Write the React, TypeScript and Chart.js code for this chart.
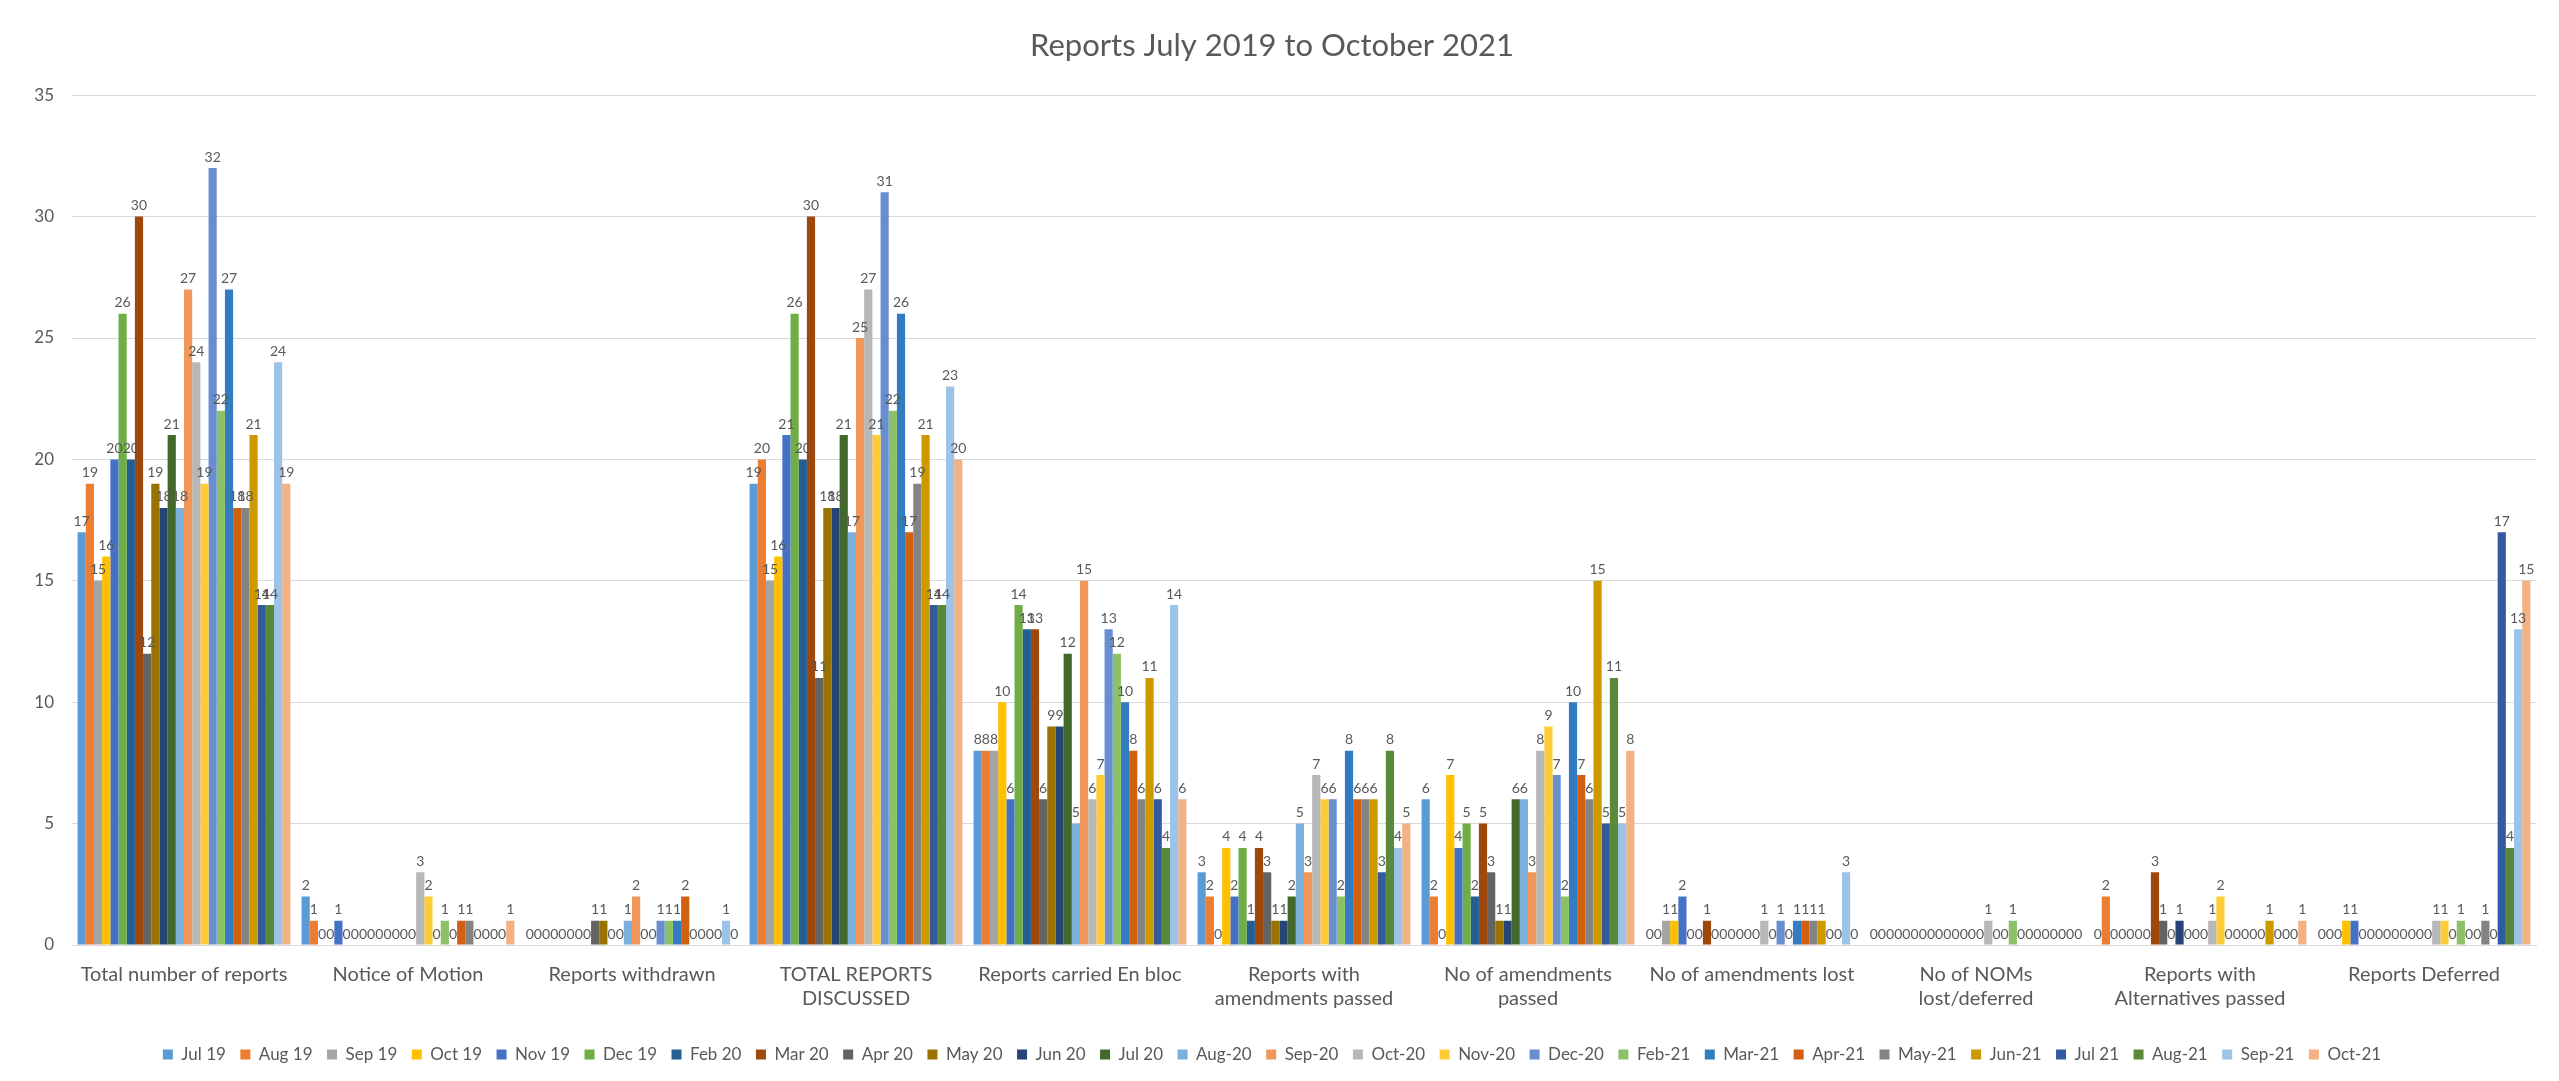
import React, { useEffect, useRef } from "react";
import { Chart, registerables } from "chart.js";

Chart.register(...registerables);

const categories: (string | string[])[] = [
  "Total number of reports",
  "Notice of Motion",
  "Reports withdrawn",
  ["TOTAL REPORTS", "DISCUSSED"],
  "Reports carried En bloc",
  ["Reports with", "amendments passed"],
  ["No of amendments", "passed"],
  "No of amendments lost",
  ["No of NOMs", "lost/deferred"],
  ["Reports with", "Alternatives passed"],
  "Reports Deferred",
];

const seriesNames = [
  "Jul 19", "Aug 19", "Sep 19", "Oct 19", "Nov 19", "Dec 19", "Feb 20", "Mar 20", "Apr 20",
  "May 20", "Jun 20", "Jul 20", "Aug-20", "Sep-20", "Oct-20", "Nov-20", "Dec-20", "Feb-21",
  "Mar-21", "Apr-21", "May-21", "Jun-21", "Jul 21", "Aug-21", "Sep-21", "Oct-21",
];

const seriesColors = [
  "#5B9BD5", "#ED7D31", "#A5A5A5", "#FFC000", "#4472C4", "#70AD47", "#255E91", "#9E480E", "#636363",
  "#997300", "#264478", "#43682B", "#7CAFDD", "#F1975A", "#B7B7B7", "#FFCD33", "#698ED0", "#8CC168",
  "#327DC2", "#D26012", "#848484", "#CC9A00", "#335AA1", "#5A8A39", "#9DC3E6", "#F4B183",
];

// values per category, in series order (Jul 19 ... Oct-21)
const totalReports = [17, 19, 15, 16, 20, 26, 20, 30, 12, 19, 18, 21, 18, 27, 24, 19, 32, 22, 27, 18, 18, 21, 14, 14, 24, 19];
const noticeOfMotion = [2, 1, 0, 0, 1, 0, 0, 0, 0, 0, 0, 0, 0, 0, 3, 2, 0, 1, 0, 1, 1, 0, 0, 0, 0, 1];
const reportsWithdrawn = [0, 0, 0, 0, 0, 0, 0, 0, 1, 1, 0, 0, 1, 2, 0, 0, 1, 1, 1, 2, 0, 0, 0, 0, 1, 0];
const totalDiscussed = [19, 20, 15, 16, 21, 26, 20, 30, 11, 18, 18, 21, 17, 25, 27, 21, 31, 22, 26, 17, 19, 21, 14, 14, 23, 20];
const enBloc = [8, 8, 8, 10, 6, 14, 13, 13, 6, 9, 9, 12, 5, 15, 6, 7, 13, 12, 10, 8, 6, 11, 6, 4, 14, 6];
const withAmendments = [3, 2, 0, 4, 2, 4, 1, 4, 3, 1, 1, 2, 5, 3, 7, 6, 6, 2, 8, 6, 6, 6, 3, 8, 4, 5];
const amendmentsPassed = [6, 2, 0, 7, 4, 5, 2, 5, 3, 1, 1, 6, 6, 3, 8, 9, 7, 2, 10, 7, 6, 15, 5, 11, 5, 8];
const amendmentsLost = [0, 0, 1, 1, 2, 0, 0, 1, 0, 0, 0, 0, 0, 0, 1, 0, 1, 0, 1, 1, 1, 1, 0, 0, 3, 0];
const nomsLost = [0, 0, 0, 0, 0, 0, 0, 0, 0, 0, 0, 0, 0, 0, 1, 0, 0, 1, 0, 0, 0, 0, 0, 0, 0, 0];
const alternativesPassed = [0, 2, 0, 0, 0, 0, 0, 3, 1, 0, 1, 0, 0, 0, 1, 2, 0, 0, 0, 0, 0, 1, 0, 0, 0, 1];
const reportsDeferred = [0, 0, 0, 1, 1, 0, 0, 0, 0, 0, 0, 0, 0, 0, 1, 1, 0, 1, 0, 0, 1, 0, 17, 4, 13, 15];

const categoryValues = [
  totalReports, noticeOfMotion, reportsWithdrawn, totalDiscussed, enBloc, withAmendments,
  amendmentsPassed, amendmentsLost, nomsLost, alternativesPassed, reportsDeferred,
];

const yTicks = [0, 5, 10, 15, 20, 25, 30, 35];

const FONT = "Lato";

const valueLabels = {
  id: "valueLabels",
  afterDatasetsDraw(chart: any) {
    const ctx = chart.ctx;
    ctx.save();
    ctx.font = `14px ${FONT}`;
    ctx.fillStyle = "#595959";
    ctx.textAlign = "center";
    ctx.textBaseline = "bottom";
    chart.data.datasets.forEach((ds: any, i: number) => {
      const meta = chart.getDatasetMeta(i);
      meta.data.forEach((el: any, j: number) => {
        ctx.fillText(String(ds.data[j]), el.x, el.y - 4);
      });
    });
    ctx.restore();
  },
};

export default function App() {
  const ref = useRef<HTMLCanvasElement | null>(null);

  useEffect(() => {
    if (!ref.current) return;
    const datasets = seriesNames.map((name, i) => ({
      label: name,
      data: categoryValues.map((arr) => arr[i]),
      backgroundColor: seriesColors[i],
      borderWidth: 0,
      categoryPercentage: 0.95,
      barPercentage: 1.0,
    }));
    const chart = new Chart(ref.current, {
      type: "bar",
      data: { labels: categories, datasets },
      options: {
        responsive: false,
        animation: false,
        layout: { padding: { left: 0, right: 15, top: 0, bottom: 0 } },
        plugins: {
          title: {
            display: true,
            text: "Reports July 2019 to October 2021",
            color: "#595959",
            font: { family: FONT, size: 31, weight: "normal" },
            padding: { top: 19, bottom: 31 },
          },
          legend: {
            position: "bottom",
            labels: {
              color: "#595959",
              font: { family: FONT, size: 17 },
              boxWidth: 10,
              boxHeight: 10,
              padding: 14.5,
            },
          },
          tooltip: { enabled: false },
        },
        scales: {
          x: {
            grid: { display: false, drawTicks: false },
            border: { display: true, color: "#d9d9d9" },
            ticks: {
              color: "#595959",
              font: { family: FONT, size: 20, lineHeight: 1.22 },
              padding: 17,
              maxRotation: 0,
              minRotation: 0,
              autoSkip: false,
            },
            afterFit: (scale: any) => {
              scale.height = 86.5;
            },
          },
          y: {
            min: 0,
            max: 35,
            afterBuildTicks: (scale: any) => {
              scale.ticks = yTicks.map((v) => ({ value: v }));
            },
            grid: { color: "#d9d9d9", drawTicks: false },
            border: { display: false },
            ticks: {
              color: "#595959",
              font: { family: FONT, size: 17 },
              padding: 18,
            },
            afterFit: (scale: any) => {
              scale.width = 64;
            },
          },
        },
      },
      plugins: [valueLabels],
    });
    return () => chart.destroy();
  }, []);

  return (
    <div style={{ width: 2543, height: 1065 }}>
      <canvas ref={ref} width={2543} height={1065} style={{ display: "block" }} />
    </div>
  );
}
